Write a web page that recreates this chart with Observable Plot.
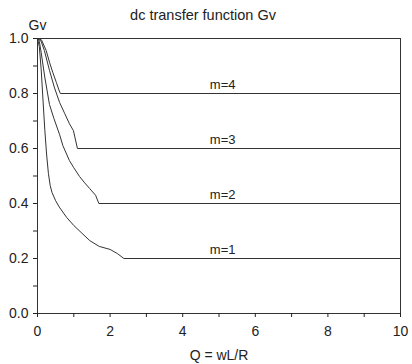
<!DOCTYPE html>
<html>
<head>
<meta charset="utf-8">
<script src="https://cdn.jsdelivr.net/npm/d3@7"></script>
<script src="https://cdn.jsdelivr.net/npm/@observablehq/plot@0.6"></script>
<style>
  html, body { margin: 0; padding: 0; background: #fff; }
  svg { font-family: "Liberation Sans", Arial, sans-serif; }
</style>
</head>
<body>
<div id="chart"></div>
<script>
const titleText = "dc transfer function Gv";
const yLabel = "Gv";
const xLabel = "Q = wL/R";

const seriesNames = ["m=1", "m=2", "m=3", "m=4"];

const m1Q = [0, 0.05, 0.1, 0.15, 0.2, 0.25, 0.3, 0.35, 0.4, 0.5, 0.6, 0.8, 1.0, 1.2, 1.44, 1.7, 2.0, 2.2, 2.38, 10];
const m1G = [1, 0.97, 0.89, 0.78, 0.67, 0.58, 0.51, 0.465, 0.44, 0.41, 0.387, 0.35, 0.32, 0.295, 0.265, 0.244, 0.233, 0.218, 0.2, 0.2];

const m2Q = [0, 0.05, 0.1, 0.2, 0.33, 0.45, 0.61, 0.7, 0.88, 1.0, 1.16, 1.3, 1.44, 1.6, 1.69, 10];
const m2G = [1, 0.99, 0.95, 0.86, 0.76, 0.71, 0.65, 0.61, 0.556, 0.53, 0.498, 0.475, 0.454, 0.43, 0.4, 0.4];

const m3Q = [0, 0.1, 0.19, 0.33, 0.47, 0.61, 0.75, 0.88, 0.99, 1.1, 10];
const m3G = [1, 0.99, 0.956, 0.884, 0.82, 0.767, 0.727, 0.69, 0.665, 0.6, 0.6];

const m4Q = [0, 0.11, 0.24, 0.33, 0.42, 0.52, 0.59, 0.63, 10];
const m4G = [1, 0.995, 0.956, 0.914, 0.877, 0.84, 0.813, 0.8, 0.8];

const labelQ = [5.1, 5.1, 5.1, 5.1];
const labelG = [0.2, 0.4, 0.6, 0.8];

const xTicks = [0, 1, 2, 3, 4, 5, 6, 7, 8, 9, 10];
const yTicks = [0, 0.1, 0.2, 0.3, 0.4, 0.5, 0.6, 0.7, 0.8, 0.9, 1.0];

const allQ = [m1Q, m2Q, m3Q, m4Q];
const allG = [m1G, m2G, m3G, m4G];
const rows = [];
allQ.forEach((qs, i) => qs.forEach((q, j) => rows.push({series: seriesNames[i], q, g: allG[i][j]})));
const labels = seriesNames.map((s, i) => ({s, q: labelQ[i], g: labelG[i]}));

const chart = Plot.plot({
  width: 412,
  height: 364,
  marginTop: 38,
  marginBottom: 51,
  marginLeft: 37,
  marginRight: 12,
  style: {fontFamily: "'Liberation Sans', Arial, sans-serif", fontSize: "12px", color: "#222", background: "#fff"},
  x: {domain: [0, 10]},
  y: {domain: [0, 1]},
  marks: [
    Plot.frame({stroke: "#333", strokeWidth: 1}),
    Plot.axisX({ticks: xTicks, tickSize: 4, tickFormat: d => d % 2 === 0 ? String(d) : "", label: null, fontSize: 14, tickPadding: 9}),
    Plot.axisY({ticks: yTicks, tickSize: 4, tickFormat: d => Math.round(d * 10) % 2 === 0 ? d3.format(".1f")(d) : "", label: null, fontSize: 14, tickPadding: 5}),
    Plot.line(rows, {x: "q", y: "g", z: "series", stroke: "#333", strokeWidth: 1}),
    Plot.text(labels, {x: "q", y: "g", text: "s", dy: -9, fontSize: 13, fill: "#222"}),
    Plot.text([titleText], {frameAnchor: "top", lineAnchor: "middle", dx: -16, dy: -23, fontSize: 14.5, fill: "#222"}),
    Plot.text([yLabel], {frameAnchor: "top-left", textAnchor: "middle", lineAnchor: "middle", dx: 0, dy: -13, fontSize: 14, fill: "#222"}),
    Plot.text([xLabel], {frameAnchor: "bottom", lineAnchor: "middle", dy: 42, fontSize: 14, fill: "#222"})
  ]
});
document.getElementById("chart").appendChild(chart);
</script>
</body>
</html>
